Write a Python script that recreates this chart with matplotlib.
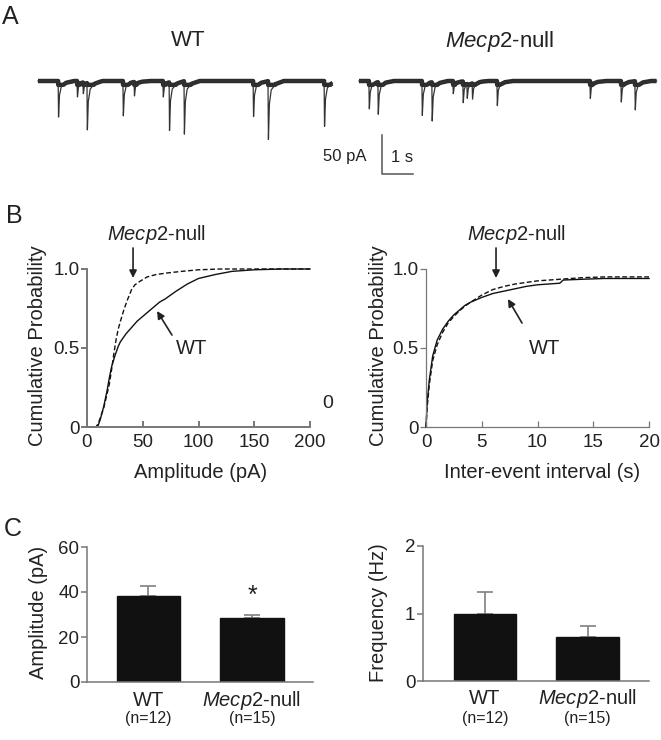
import numpy as np
import matplotlib
matplotlib.use("Agg")
import matplotlib.pyplot as plt

plt.rcParams['font.family'] = ['Liberation Sans', 'DejaVu Sans']
plt.rcParams['mathtext.fontset'] = 'custom'
plt.rcParams['mathtext.rm'] = 'Liberation Sans'
plt.rcParams['mathtext.it'] = 'Liberation Sans:italic'

MECP2 = r'$\mathit{Mecp2}$-null'

# --- panel A: event times (s, from trace start) and amplitudes (pA) ---
wt_event_t = [0.65, 1.26, 1.45, 1.58, 2.74, 3.10, 4.03, 4.23, 4.71, 6.94, 7.42, 9.23]
wt_event_amp = [47, 21, 15, 62, 46, 18, 21, 63, 69, 47, 77, 60]
wt_duration = 9.5
null_event_t = [0.32, 0.61, 2.03, 2.35, 3.03, 3.35, 3.48, 3.65, 4.45, 7.45, 8.45, 8.90]
null_event_amp = [37, 42, 45, 50, 17, 28, 19, 21, 32, 23, 27, 38]
null_duration = 9.6

# --- panel B: cumulative distributions ---
amp_wt_x = [0, 8, 10, 12, 15, 18, 20, 22, 25, 28, 30, 35, 40, 45, 50, 55, 60, 65,
            70, 80, 90, 100, 115, 130, 150, 175, 200]
amp_wt_y = [0, 0, 0.01, 0.05, 0.13, 0.23, 0.31, 0.38, 0.45, 0.51, 0.54, 0.59, 0.63,
            0.67, 0.70, 0.73, 0.76, 0.79, 0.81, 0.86, 0.905, 0.94, 0.965, 0.985,
            0.995, 1.0, 1.0]
amp_null_x = [0, 8, 10, 12, 15, 18, 20, 22, 24, 26, 28, 30, 33, 36, 40, 43, 47, 54,
              62, 72, 85, 100, 120, 200]
amp_null_y = [0, 0, 0.02, 0.06, 0.12, 0.21, 0.27, 0.36, 0.46, 0.55, 0.62, 0.67, 0.74,
              0.80, 0.87, 0.90, 0.92, 0.95, 0.965, 0.975, 0.985, 0.995, 1.0, 1.0]
iei_wt_x = [0, 0.1, 0.3, 0.6, 1.0, 1.5, 2, 2.5, 3, 3.5, 4, 5, 6, 7, 8, 9, 10, 11, 12,
            12.3, 14, 16, 20]
iei_wt_y = [0, 0.15, 0.30, 0.45, 0.55, 0.62, 0.67, 0.71, 0.74, 0.77, 0.79, 0.82,
            0.845, 0.86, 0.875, 0.89, 0.90, 0.905, 0.91, 0.93, 0.935, 0.94, 0.94]
iei_null_x = [0, 0.1, 0.3, 0.6, 1.0, 1.5, 2, 2.5, 3, 3.5, 4, 5, 6, 7, 8, 9, 10, 12,
              14, 16, 20]
iei_null_y = [0, 0.12, 0.27, 0.42, 0.52, 0.60, 0.66, 0.70, 0.735, 0.765, 0.79, 0.835,
              0.87, 0.89, 0.905, 0.915, 0.925, 0.935, 0.945, 0.95, 0.95]

# --- panel C: means and SEM ---
groups = ['WT', MECP2]
group_n = ['(n=12)', '(n=15)']
amp_mean = [38.3, 28.4]
amp_sem = [4.4, 1.5]
freq_mean = [0.99, 0.65]
freq_sem = [0.33, 0.17]

W, H = 661, 740
fig = plt.figure(figsize=(W / 100, H / 100), dpi=100)
TXT = '#222222'
SPINE = '#777777'


def px_axes(x0, y0, x1, y1):
    return fig.add_axes([x0 / W, 1 - y1 / H, (x1 - x0) / W, (y1 - y0) / H])


def ftext(x, y, s, **kw):
    kw.setdefault('color', TXT)
    kw.setdefault('ha', 'center')
    kw.setdefault('va', 'center')
    fig.text(x / W, 1 - y / H, s, **kw)


def style_axes(ax, lw):
    for side in ['top', 'right']:
        ax.spines[side].set_visible(False)
    for side in ['left', 'bottom']:
        ax.spines[side].set_color(SPINE)
        ax.spines[side].set_linewidth(lw)
    ax.tick_params(axis='y', direction='out', length=4, width=lw, color=SPINE,
                   labelsize=13.5, labelcolor=TXT, pad=1.5)
    ax.tick_params(axis='x', direction='in', length=4, width=lw, color=SPINE,
                   labelsize=13.5, labelcolor=TXT, pad=5)


# ---------------- panel A ----------------
sec_px, pa_px = 31.0, 39.0 / 50.0
axa = px_axes(0, 0, W, 200)
axa.set_xlim(0, W / sec_px)
axa.set_ylim(-(200 - 81) / pa_px, 81 / pa_px)
axa.axis('off')

kern_t = [0, 0.012, 0.04, 0.1, 0.25, 0.5]
kern_v = [0, 1, 0.4, 0.15, 0.05, 0]


def draw_trace(start, duration, ev_t, ev_a):
    t = np.linspace(0, duration, 4000)
    y = np.zeros_like(t)
    for te, a in zip(ev_t, ev_a):
        y -= a * np.interp(t - te, kern_t, kern_v, left=0, right=0)
    axa.plot(start + t, np.maximum(y, -5), color='#2b2b2b', lw=3.2,
             solid_capstyle='butt')
    axa.plot(start + t, y, color='#333333', lw=0.9)


draw_trace(38 / sec_px, wt_duration, wt_event_t, wt_event_amp)
draw_trace(359 / sec_px, null_duration, null_event_t, null_event_amp)

# scale bar
sb_x, sb_y = 382 / sec_px, -(174 - 81) / pa_px
axa.plot([sb_x, sb_x, sb_x + 1], [sb_y + 50, sb_y, sb_y], color='#555555', lw=1.1)

ftext(10, 17, 'A', fontsize=18)
ftext(188, 41, 'WT', fontsize=16)
ftext(500, 41, MECP2, fontsize=16)
ftext(345, 157, '50 pA', fontsize=12)
ftext(402, 157, '1 s', fontsize=12)

# ---------------- panel B ----------------
ftext(14, 216, 'B', fontsize=18)
arrow = dict(arrowstyle='-|>', color=TXT, lw=1.2, mutation_scale=11,
             shrinkA=0, shrinkB=0)

axb1 = px_axes(87, 269, 310, 427)
style_axes(axb1, 1.4)
axb1.plot(amp_wt_x, amp_wt_y, color='#111111', lw=1.0, clip_on=False)
axb1.plot(amp_null_x, amp_null_y, color='#111111', lw=1.0, ls=(0, (3.5, 1.8)),
          clip_on=False)
axb1.set_xlim(0, 200)
axb1.set_ylim(0, 1)
axb1.set_xticks([0, 50, 100, 150, 200])
axb1.set_yticks([0, 0.5, 1.0], ['0', '0.5', '1.0'])
axb1.annotate('', xy=(41.3, 0.943), xytext=(41.3, 1.133), arrowprops=arrow,
              annotation_clip=False)
axb1.annotate('', xy=(62.8, 0.734), xytext=(76.2, 0.582), arrowprops=arrow,
              annotation_clip=False)

axb2 = px_axes(426, 269, 649, 427)
style_axes(axb2, 0.9)
axb2.plot(iei_wt_x, iei_wt_y, color='#111111', lw=1.0, clip_on=False)
axb2.plot(iei_null_x, iei_null_y, color='#111111', lw=1.0, ls=(0, (3.5, 1.8)),
          clip_on=False)
axb2.set_xlim(0, 20)
axb2.set_ylim(0, 1)
axb2.set_xticks([0, 5, 10, 15, 20])
axb2.set_yticks([0, 0.5, 1.0], ['0', '0.5', '1.0'])
axb2.annotate('', xy=(6.28, 0.943), xytext=(6.28, 1.133), arrowprops=arrow,
              annotation_clip=False)
axb2.annotate('', xy=(7.35, 0.81), xytext=(8.61, 0.658), arrowprops=arrow,
              annotation_clip=False)

ftext(157, 235, MECP2, fontsize=14.5)
ftext(192, 348, 'WT', fontsize=14.5)
ftext(517, 235, MECP2, fontsize=14.5)
ftext(545, 348, 'WT', fontsize=14.5)
ftext(328, 403, '0', fontsize=14)
ftext(38, 346, 'Cumulative Probability', fontsize=14.5, rotation=90)
ftext(378, 346, 'Cumulative Probability', fontsize=14.5, rotation=90)
ftext(201, 473, 'Amplitude (pA)', fontsize=14.5)
ftext(542, 473, 'Inter-event interval (s)', fontsize=14.5)

# ---------------- panel C ----------------
ftext(13, 529, 'C', fontsize=18)


def bar_panel(ax, means, sems, xlim, ylim, yticks, hpx):
    style_axes(ax, 1.1)
    ax.bar([0, 1], means, width=0.61, color='#111111', edgecolor='#111111',
           zorder=2)
    ax.errorbar([0, 1], means, yerr=[[0, 0], sems], fmt='none',
                ecolor='#808080', elinewidth=1.2, capsize=6, capthick=1.2,
                zorder=1)
    ax.set_xlim(*xlim)
    ax.set_ylim(*ylim)
    ax.set_yticks(yticks)
    ax.set_xticks([])
    tr = ax.get_xaxis_transform()
    for i in range(2):
        ax.text(i, -18 / hpx, groups[i], transform=tr, ha='center', va='center',
                fontsize=14.5, color=TXT)
        ax.text(i, -37 / hpx, group_n[i], transform=tr, ha='center',
                va='center', fontsize=11.5, color=TXT)


axc1 = px_axes(87, 547, 313, 682)
bar_panel(axc1, amp_mean, amp_sem, (-0.594, 1.589), (0, 60), [0, 20, 40, 60], 135)
axc1.text(1, 38.5, '*', ha='center', va='center', fontsize=18, color=TXT)

axc2 = px_axes(423, 546, 649, 681)
bar_panel(axc2, freq_mean, freq_sem, (-0.605, 1.6), (0, 2), [0, 1, 2], 135)

ftext(38, 612, 'Amplitude (pA)', fontsize=14.5, rotation=90)
ftext(378, 613, 'Frequency (Hz)', fontsize=14.5, rotation=90)

fig.savefig('out.png', dpi=100)
